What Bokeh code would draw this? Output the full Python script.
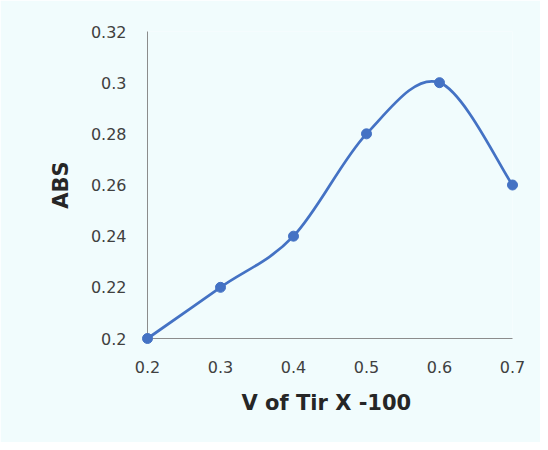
from bokeh.plotting import figure
from bokeh.models import FixedTicker, ColumnDataSource
from bokeh.embed import file_html
from bokeh.resources import INLINE

# Data
x_vals = [0.2, 0.3, 0.4, 0.5, 0.6, 0.7]
abs_vals = [0.20, 0.22, 0.24, 0.28, 0.30, 0.26]
x_ticks = [0.2, 0.3, 0.4, 0.5, 0.6, 0.7]
x_tick_labels = ["0.2", "0.3", "0.4", "0.5", "0.6", "0.7"]
y_ticks = [0.2, 0.22, 0.24, 0.26, 0.28, 0.3, 0.32]
y_tick_labels = ["0.2", "0.22", "0.24", "0.26", "0.28", "0.3", "0.32"]
x_title = "V of Tir  X -100"
y_title = "ABS"

BLUE = "#4472C4"
BG = "#F1FCFD"
TICK_FONT = "DejaVu Sans"
TITLE_FONT = "DejaVu Sans"

p = figure(width=540, height=442, output_backend="svg", toolbar_location=None,
           x_range=(0.2, 0.7), y_range=(0.2, 0.32),
           min_border_left=147, min_border_right=28,
           min_border_top=31, min_border_bottom=104)
p.background_fill_color = BG
p.border_fill_color = BG
p.outline_line_color = None
p.grid.visible = False

# Smoothed curve (Catmull-Rom style Bezier segments, computed from the data)
n = len(x_vals)
x0, y0, x1, y1, cx0, cy0, cx1, cy1 = [], [], [], [], [], [], [], []
for i in range(n - 1):
    im = max(i - 1, 0)
    ip2 = min(i + 2, n - 1)
    x0.append(x_vals[i]); y0.append(abs_vals[i])
    x1.append(x_vals[i + 1]); y1.append(abs_vals[i + 1])
    cx0.append(x_vals[i] + (x_vals[i + 1] - x_vals[im]) / 6)
    cy0.append(abs_vals[i] + (abs_vals[i + 1] - abs_vals[im]) / 6)
    cx1.append(x_vals[i + 1] - (x_vals[ip2] - x_vals[i]) / 6)
    cy1.append(abs_vals[i + 1] - (abs_vals[ip2] - abs_vals[i]) / 6)
bez = ColumnDataSource(dict(x0=x0, y0=y0, x1=x1, y1=y1, cx0=cx0, cy0=cy0, cx1=cx1, cy1=cy1))
p.bezier(x0="x0", y0="y0", x1="x1", y1="y1", cx0="cx0", cy0="cy0", cx1="cx1", cy1="cy1",
         source=bez, line_color=BLUE, line_width=2.75, level="overlay")
p.scatter(x_vals, abs_vals, size=10, color=BLUE, level="overlay")

for ax in (p.xaxis, p.yaxis):
    ax.axis_line_color = "#8C8C8C"
    ax.axis_line_width = 1
    ax.major_tick_line_color = None
    ax.minor_tick_line_color = None
    ax.major_tick_out = 0
    ax.major_tick_in = 0
    ax.major_label_text_font = TICK_FONT
    ax.major_label_text_font_size = "16px"
    ax.major_label_text_color = "#404040"
    ax.axis_label_text_font = TITLE_FONT
    ax.axis_label_text_font_size = "21px"
    ax.axis_label_text_font_style = "bold"
    ax.axis_label_text_color = "#262626"

p.xaxis.ticker = FixedTicker(ticks=x_ticks)
p.xaxis.major_label_overrides = {t: l for t, l in zip(x_ticks, x_tick_labels)}
p.yaxis.ticker = FixedTicker(ticks=y_ticks)
p.yaxis.major_label_overrides = {t: l for t, l in zip(y_ticks, y_tick_labels)}
p.xaxis.axis_label = x_title
p.yaxis.axis_label = y_title
p.xaxis.major_label_standoff = 22
p.yaxis.major_label_standoff = 21
p.xaxis.axis_label_standoff = 15
p.yaxis.axis_label_standoff = 15

open("out.html", "w").write(file_html(p, INLINE))
